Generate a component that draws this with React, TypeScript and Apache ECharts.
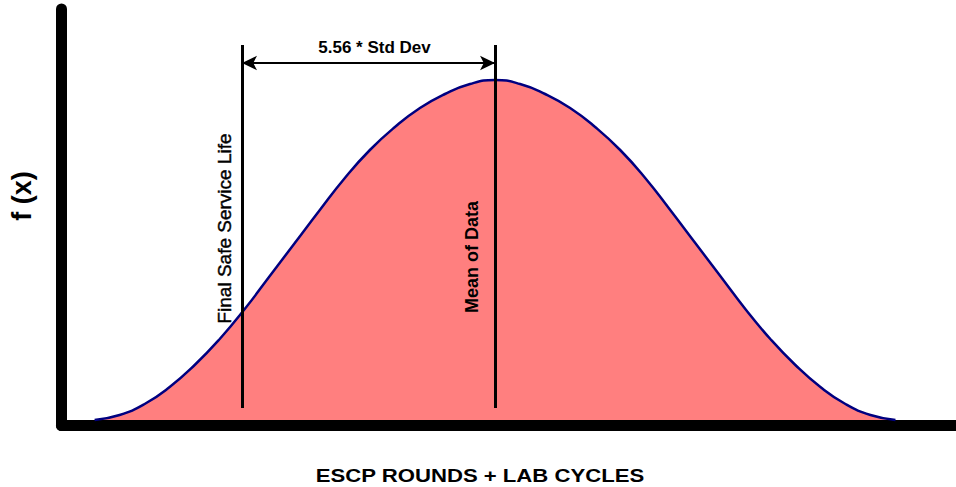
import React, { useEffect, useRef } from "react";
import * as echarts from "echarts";

// Curve: x in "std dev" units from the mean, y = height of f(x)
const curveX = [-8.8, -8.25, -7.7, -7.15, -6.6, -6.05, -5.5, -4.95, -4.4, -3.85, -3.3, -2.75, -2.2, -1.65, -1.1, -0.55, 0, 0.55, 1.1, 1.65, 2.2, 2.75, 3.3, 3.85, 4.4, 4.95, 5.5, 6.05, 6.6, 7.15, 7.7, 8.25, 8.8];
const curveY = [0, 5, 16, 33, 55, 81, 111, 144, 177, 210, 242, 270, 293, 312, 326, 336, 340, 336, 326, 312, 293, 270, 242, 210, 177, 144, 111, 81, 55, 33, 16, 5, 0];

const meanX = 0;
const finalSafeX = -5.56;
const markBottom = 12;
const markTop = 375;
const arrowLevel = 357;

const arrowLabel = "5.56 * Std Dev";
const finalSafeLabel = "Final Safe Service Life";
const meanLabel = "Mean of Data";
const yTitle = "f (x)";
const xTitle = "ESCP ROUNDS + LAB CYCLES";

const X_MIN = -9.527;
const X_MAX = 10.13;
const Y_MIN = -5.5;
const Y_MAX = 411;

const FONT = '"Liberation Sans", Arial, Helvetica, sans-serif';

export default function App() {
  const ref = useRef<HTMLDivElement>(null);
  useEffect(() => {
    if (!ref.current) return;
    const chart = echarts.init(ref.current, null, { renderer: "svg" });
    const hidden = {
      axisTick: { show: false },
      axisLabel: { show: false },
      splitLine: { show: false },
    };
    chart.setOption({
      animation: false,
      grid: { left: 61.5, right: 0, top: 9, bottom: 61.5 },
      xAxis: {
        type: "value",
        min: X_MIN,
        max: X_MAX,
        axisLine: { show: true, onZero: false, lineStyle: { color: "#000", width: 11 } },
        ...hidden,
      },
      yAxis: {
        type: "value",
        min: Y_MIN,
        max: Y_MAX,
        axisLine: { show: true, onZero: false, lineStyle: { color: "#000", width: 11 } },
        ...hidden,
      },
      series: [
        {
          type: "line",
          data: curveX.map((x, i) => [x, curveY[i]]),
          smooth: 0.5,
          symbol: "none",
          lineStyle: { color: "#000080", width: 2.5 },
          areaStyle: { color: "#ff7f7f", opacity: 1 },
          markLine: {
            silent: true,
            symbol: "none",
            label: { show: false },
            lineStyle: { color: "#000", width: 3, type: "solid" },
            data: [
              [{ coord: [finalSafeX, markBottom] }, { coord: [finalSafeX, markTop] }],
              [{ coord: [meanX, markBottom] }, { coord: [meanX, markTop] }],
            ],
          },
        },
        {
          type: "line",
          data: [],
          markLine: {
            silent: true,
            symbol: ["arrow", "arrow"],
            symbolSize: [11, 15],
            label: { show: false },
            lineStyle: { color: "#000", width: 2, type: "solid" },
            data: [[{ coord: [finalSafeX, arrowLevel] }, { coord: [meanX, arrowLevel] }]],
          },
        },
      ],
    });
    const p = (x: number, y: number) => chart.convertToPixel({ gridIndex: 0 }, [x, y]) as number[];
    const fs = p(finalSafeX, arrowLevel);
    const mn = p(meanX, arrowLevel);
    const fsMid = p(finalSafeX, 191.5);
    const mnMid = p(meanX, 163);
    chart.setOption({
      graphic: [
        {
          type: "text",
          z: 100,
          x: (fs[0] + mn[0]) / 2 + 6,
          y: fs[1] - 16,
          style: { text: arrowLabel, font: `bold 17px ${FONT}`, fill: "#000", align: "center", verticalAlign: "middle" },
        },
        {
          type: "text",
          z: 100,
          x: fsMid[0] - 18,
          y: fsMid[1],
          rotation: Math.PI / 2,
          style: { text: finalSafeLabel, font: `19px ${FONT}`, fill: "#000", stroke: "#000", lineWidth: 0.4, align: "center", verticalAlign: "middle" },
        },
        {
          type: "text",
          z: 100,
          x: mnMid[0] - 23.5,
          y: mnMid[1],
          rotation: Math.PI / 2,
          style: { text: meanLabel, font: `bold 18px ${FONT}`, fill: "#000", align: "center", verticalAlign: "middle" },
        },
        {
          type: "text",
          z: 100,
          x: 22,
          y: 196,
          rotation: Math.PI / 2,
          style: { text: yTitle, font: `bold 27px ${FONT}`, fill: "#000", align: "center", verticalAlign: "middle" },
        },
        {
          type: "text",
          z: 100,
          x: 480,
          y: 476,
          scaleX: 1.23,
          style: { text: xTitle, font: `bold 18px ${FONT}`, fill: "#000", align: "center", verticalAlign: "middle" },
        },
      ],
    });
    return () => chart.dispose();
  }, []);
  return (
    <div
      ref={ref}
      style={{ position: "fixed", left: 0, top: 0, width: 956, height: 487, background: "#fff" }}
    />
  );
}
